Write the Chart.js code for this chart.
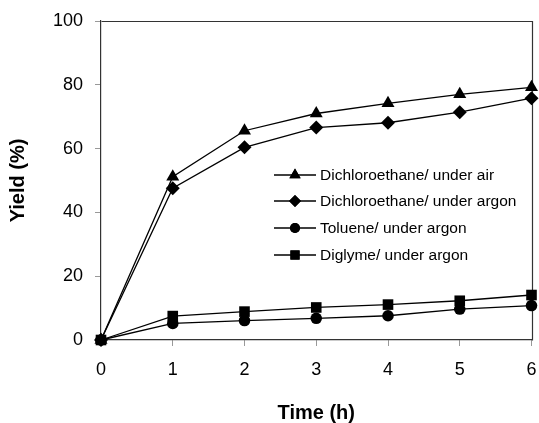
<!DOCTYPE html>
<html>
<head>
<meta charset="utf-8">
<script src="https://cdn.jsdelivr.net/npm/chart.js@4/dist/chart.umd.min.js"></script>
<style>
  html, body { margin: 0; padding: 0; background: #fff; }
  #wrap { width: 539px; height: 423px; position: relative; }
</style>
</head>
<body>
<div id="wrap"><canvas id="yieldChart"></canvas></div>
<script>
// Data (time in h, yield in %)
const times = [0, 1, 2, 3, 4, 5, 6];
const seriesLabels = [
    'Dichloroethane/ under air',
    'Dichloroethane/ under argon',
    'Toluene/ under argon',
    'Diglyme/ under argon'
];
const dceAir = [0, 51.2, 65.6, 71.0, 74.2, 77.0, 79.2];
const dceArgon = [0, 47.6, 60.4, 66.6, 68.1, 71.4, 75.8];
const tolueneArgon = [0, 5.2, 6.1, 6.8, 7.6, 9.7, 10.8];
const diglymeArgon = [0, 7.5, 8.9, 10.2, 11.1, 12.3, 14.1];
const yTicks = [0, 20, 40, 60, 80, 100];
const xTicks = [0, 1, 2, 3, 4, 5, 6];

const FONT = 'Arial, "Liberation Sans", sans-serif';

// marker style per series
const markers = [
    { style: 'triangle', radius: 7.5, legendRadius: 6.5 },
    { style: 'rectRot', radius: 7, legendRadius: 6 },
    { style: 'circle', radius: 5.8, legendRadius: 5 },
    { style: 'rect', radius: 7.5, legendRadius: 6.5 }
];

const values = [dceAir, dceArgon, tolueneArgon, diglymeArgon];

function toPoints(arr) {
    return times.map((t, i) => ({ x: t, y: arr[i] }));
}

// Frame round the plot area (top and right sides)
const framePlugin = {
    id: 'frame',
    beforeDatasetsDraw(chart) {
        const { ctx, chartArea: a } = chart;
        ctx.save();
        ctx.strokeStyle = '#333';
        ctx.lineWidth = 1.2;
        ctx.beginPath();
        ctx.moveTo(Math.round(a.left) + 0.5, Math.round(a.top) + 0.5);
        ctx.lineTo(Math.round(a.right) + 0.5, Math.round(a.top) + 0.5);
        ctx.lineTo(Math.round(a.right) + 0.5, Math.round(a.bottom) + 0.5);
        ctx.stroke();
        ctx.restore();
    }
};

// Legend drawn inside the plot, like the original figure
const legendPlugin = {
    id: 'insideLegend',
    afterDatasetsDraw(chart) {
        const { ctx } = chart;
        const rowY = [175, 201, 228, 255];
        const x0 = 274, x1 = 316, textX = 320;
        ctx.save();
        chart.data.datasets.forEach((ds, i) => {
            const y = rowY[i];
            ctx.strokeStyle = '#000';
            ctx.lineWidth = 1.3;
            ctx.beginPath();
            ctx.moveTo(x0, y);
            ctx.lineTo(x1, y);
            ctx.stroke();
            ctx.fillStyle = '#000';
            Chart.helpers.drawPoint(ctx, {
                pointStyle: markers[i].style,
                radius: markers[i].legendRadius,
                rotation: 0,
                borderWidth: 0
            }, (x0 + x1) / 2, y);
            ctx.fill();
            ctx.fillStyle = '#000';
            ctx.font = '15.5px ' + FONT;
            ctx.textAlign = 'left';
            ctx.textBaseline = 'middle';
            ctx.fillText(ds.label, textX, y + 1);
        });
        ctx.restore();
    }
};

new Chart(document.getElementById('yieldChart'), {
    type: 'line',
    data: {
        datasets: values.map((arr, i) => ({
            label: seriesLabels[i],
            data: toPoints(arr),
            borderColor: '#000',
            borderWidth: 1.3,
            backgroundColor: '#000',
            pointStyle: markers[i].style,
            pointRadius: markers[i].radius,
            pointBorderWidth: 0,
            pointBackgroundColor: '#000',
            tension: 0,
            clip: false
        }))
    },
    options: {
        responsive: true,
        maintainAspectRatio: false,
        animation: false,
        layout: { padding: { top: 21, right: 6, left: 0, bottom: 0 } },
        plugins: {
            legend: { display: false },
            tooltip: { enabled: false }
        },
        scales: {
            x: {
                type: 'linear',
                min: 0,
                max: 6,
                afterBuildTicks(scale) {
                    scale.ticks = xTicks.map(v => ({ value: v }));
                },
                afterFit(scale) {
                    scale.height = 83;
                    scale.paddingLeft = 0;
                    scale.paddingRight = 0;
                },
                grid: {
                    drawOnChartArea: false,
                    drawTicks: true,
                    tickLength: 6,
                    color: '#999'
                },
                border: { display: true, color: '#333', width: 1.2 },
                ticks: {
                    color: '#000',
                    padding: 13,
                    font: { family: FONT, size: 18 }
                },
                title: {
                    display: true,
                    text: 'Time (h)',
                    color: '#000',
                    padding: 0,
                    font: { family: FONT, size: 20, weight: 'bold', lineHeight: 1 }
                }
            },
            y: {
                type: 'linear',
                min: 0,
                max: 100,
                afterBuildTicks(scale) {
                    scale.ticks = yTicks.map(v => ({ value: v }));
                },
                afterFit(scale) {
                    scale.width = 101;
                    scale.paddingTop = 0;
                    scale.paddingBottom = 0;
                },
                grid: {
                    drawOnChartArea: false,
                    drawTicks: true,
                    tickLength: 6,
                    color: '#999'
                },
                border: { display: true, color: '#333', width: 1.2 },
                ticks: {
                    color: '#000',
                    padding: 12,
                    font: { family: FONT, size: 18 }
                },
                title: {
                    display: true,
                    text: 'Yield (%)',
                    color: '#000',
                    padding: { top: 8, bottom: 0 },
                    font: { family: FONT, size: 20, weight: 'bold', lineHeight: 1 }
                }
            }
        }
    },
    plugins: [framePlugin, legendPlugin]
});
</script>
</body>
</html>
